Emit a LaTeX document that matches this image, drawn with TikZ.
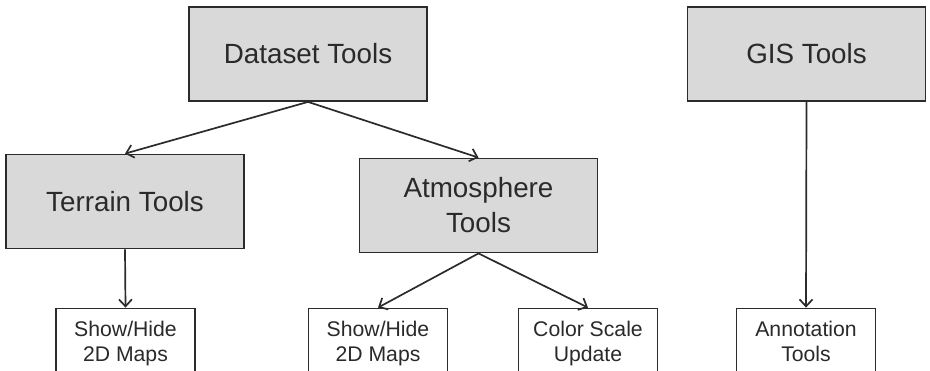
\documentclass[tikz,border=0pt]{standalone}
\usepackage{fontspec}
\setmainfont{Liberation Sans}
\usetikzlibrary{arrows.meta}
\definecolor{boxline}{HTML}{2B2B2B}
\definecolor{boxfill}{HTML}{D9D9D9}
\definecolor{txt}{HTML}{2A2A2A}

\begin{document}
\begin{tikzpicture}[x=0.5pt,y=-0.5pt,
  bigbox/.style={draw=boxline,fill=boxfill,line width=0.9pt,minimum width=119pt,minimum height=47pt,inner sep=0pt,align=center,text=txt,font=\fontsize{13.9}{17.5}\selectfont},
  smallbox/.style={draw=boxline,fill=white,line width=0.9pt,minimum width=69.5pt,minimum height=35pt,inner sep=0pt,align=center,text=txt,font=\fontsize{10.6}{12.5}\selectfont},
  link/.style={-{Straight Barb[length=3.5pt,width=6.5pt]},line width=0.85pt,draw=boxline}]
\useasboundingbox (0,0) rectangle (930,370);
\clip (0,0) rectangle (930,370);

% Top level
\node[bigbox] (dataset) at (308,54) {Dataset Tools};
\node[bigbox] (gis) at (806.5,54) {GIS Tools};

% Second level
\node[bigbox] (terrain) at (125,201.5) {Terrain Tools};
\node[bigbox] (atmos) at (478.5,205.5) {Atmosphere\\Tools};

% Leaves
\node[smallbox] (terrainmaps) at (125.5,343.5) {Show/Hide\\2D Maps};
\node[smallbox] (atmosmaps) at (378,343.5) {Show/Hide\\2D Maps};
\node[smallbox] (colorscale) at (588,343.5) {Color Scale\\Update};
\node[smallbox] (annotation) at (806,343.5) {Annotation\\Tools\vphantom{p}};

% Links
\draw[link] (dataset.south) -- (terrain.north);
\draw[link] (dataset.south) -- (atmos.north);
\draw[link] (terrain.south) -- (terrainmaps.north);
\draw[link] (atmos.south) -- (atmosmaps.north);
\draw[link] (atmos.south) -- (colorscale.north);
\draw[link] (gis.south) -- (annotation.north);
\end{tikzpicture}
\end{document}
